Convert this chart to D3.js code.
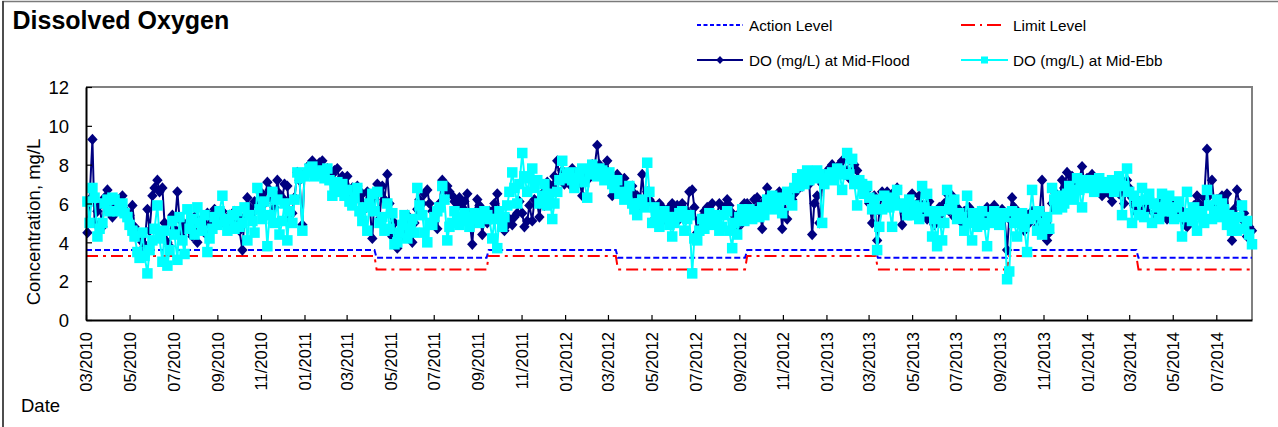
<!DOCTYPE html>
<html><head><meta charset="utf-8">
<script src="https://cdn.jsdelivr.net/npm/d3@7"></script>
<style>
body{margin:0;background:#fff}
svg{display:block}
text{font-family:"Liberation Sans",Arial,sans-serif;fill:#000}
</style>
</head><body>
<svg id="chart" width="1278" height="427"></svg>
<script>
// ---------- DATA ----------
// monitoring round A (Wednesdays)
const datesA = [
"2010-03-03","2010-03-10","2010-03-17","2010-03-24","2010-03-31","2010-04-07","2010-04-14","2010-04-21","2010-04-28",
"2010-05-05","2010-05-12","2010-05-19","2010-05-26","2010-06-02","2010-06-09","2010-06-16","2010-06-23","2010-06-30",
"2010-07-07","2010-07-14","2010-07-21","2010-07-28","2010-08-04","2010-08-11","2010-08-18","2010-08-25",
"2010-09-01","2010-09-08","2010-09-15","2010-09-22","2010-09-29","2010-10-06","2010-10-13","2010-10-20","2010-10-27",
"2010-11-03","2010-11-10","2010-11-17","2010-11-24","2010-12-01","2010-12-08","2010-12-15","2010-12-22","2010-12-29",
"2011-01-05","2011-01-12","2011-01-19","2011-01-26","2011-02-02","2011-02-09","2011-02-16","2011-02-23",
"2011-03-02","2011-03-09","2011-03-16","2011-03-23","2011-03-30","2011-04-06","2011-04-13","2011-04-20","2011-04-27",
"2011-05-04","2011-05-11","2011-05-18","2011-05-25","2011-06-01","2011-06-08","2011-06-15","2011-06-22","2011-06-29",
"2011-07-06","2011-07-13","2011-07-20","2011-07-27","2011-08-03","2011-08-10","2011-08-17","2011-08-24","2011-08-31",
"2011-09-07","2011-09-14","2011-09-21","2011-09-28","2011-10-05","2011-10-12","2011-10-19","2011-10-26",
"2011-11-02","2011-11-09","2011-11-16","2011-11-23","2011-11-30","2011-12-07","2011-12-14","2011-12-21","2011-12-28",
"2012-01-04","2012-01-11","2012-01-18","2012-01-25","2012-02-01","2012-02-08","2012-02-15","2012-02-22","2012-02-29",
"2012-03-07","2012-03-14","2012-03-21","2012-03-28","2012-04-04","2012-04-11","2012-04-18","2012-04-25",
"2012-05-02","2012-05-09","2012-05-16","2012-05-23","2012-05-30","2012-06-06","2012-06-13","2012-06-20","2012-06-27",
"2012-07-04","2012-07-11","2012-07-18","2012-07-25","2012-08-01","2012-08-08","2012-08-15","2012-08-22","2012-08-29",
"2012-09-05","2012-09-12","2012-09-19","2012-09-26","2012-10-03","2012-10-10","2012-10-17","2012-10-24","2012-10-31",
"2012-11-07","2012-11-14","2012-11-21","2012-11-28","2012-12-05","2012-12-12","2012-12-19","2012-12-26",
"2013-01-02","2013-01-09","2013-01-16","2013-01-23","2013-01-30","2013-02-06","2013-02-13","2013-02-20","2013-02-27",
"2013-03-06","2013-03-13","2013-03-20","2013-03-27","2013-04-03","2013-04-10","2013-04-17","2013-04-24",
"2013-05-01","2013-05-08","2013-05-15","2013-05-22","2013-05-29","2013-06-05","2013-06-12","2013-06-19","2013-06-26",
"2013-07-03","2013-07-10","2013-07-17","2013-07-24","2013-07-31","2013-08-07","2013-08-14","2013-08-21","2013-08-28",
"2013-09-04","2013-09-11","2013-09-18","2013-09-25","2013-10-02","2013-10-09","2013-10-16","2013-10-23","2013-10-30",
"2013-11-06","2013-11-13","2013-11-20","2013-11-27","2013-12-04","2013-12-11","2013-12-18","2013-12-25",
"2014-01-01","2014-01-08","2014-01-15","2014-01-22","2014-01-29","2014-02-05","2014-02-12","2014-02-19","2014-02-26",
"2014-03-05","2014-03-12","2014-03-19","2014-03-26","2014-04-02","2014-04-09","2014-04-16","2014-04-23","2014-04-30",
"2014-05-07","2014-05-14","2014-05-21","2014-05-28","2014-06-04","2014-06-11","2014-06-18","2014-06-25",
"2014-07-02","2014-07-09","2014-07-16","2014-07-23","2014-07-30","2014-08-06","2014-08-13","2014-08-20"];

// monitoring round B (Saturdays)
const datesB = [
"2010-03-06","2010-03-13","2010-03-20","2010-03-27","2010-04-03","2010-04-10","2010-04-17","2010-04-24","2010-05-01",
"2010-05-08","2010-05-15","2010-05-22","2010-05-29","2010-06-05","2010-06-12","2010-06-19","2010-06-26","2010-07-03",
"2010-07-10","2010-07-17","2010-07-24","2010-07-31","2010-08-07","2010-08-14","2010-08-21","2010-08-28",
"2010-09-04","2010-09-11","2010-09-18","2010-09-25","2010-10-02","2010-10-09","2010-10-16","2010-10-23","2010-10-30",
"2010-11-06","2010-11-13","2010-11-20","2010-11-27","2010-12-04","2010-12-11","2010-12-18","2010-12-25",
"2011-01-01","2011-01-08","2011-01-15","2011-01-22","2011-01-29","2011-02-05","2011-02-12","2011-02-19","2011-02-26",
"2011-03-05","2011-03-12","2011-03-19","2011-03-26","2011-04-02","2011-04-09","2011-04-16","2011-04-23","2011-04-30",
"2011-05-07","2011-05-14","2011-05-21","2011-05-28","2011-06-04","2011-06-11","2011-06-18","2011-06-25",
"2011-07-02","2011-07-09","2011-07-16","2011-07-23","2011-07-30","2011-08-06","2011-08-13","2011-08-20","2011-08-27",
"2011-09-03","2011-09-10","2011-09-17","2011-09-24","2011-10-01","2011-10-08","2011-10-15","2011-10-22","2011-10-29",
"2011-11-05","2011-11-12","2011-11-19","2011-11-26","2011-12-03","2011-12-10","2011-12-17","2011-12-24","2011-12-31",
"2012-01-07","2012-01-14","2012-01-21","2012-01-28","2012-02-04","2012-02-11","2012-02-18","2012-02-25",
"2012-03-03","2012-03-10","2012-03-17","2012-03-24","2012-03-31","2012-04-07","2012-04-14","2012-04-21","2012-04-28",
"2012-05-05","2012-05-12","2012-05-19","2012-05-26","2012-06-02","2012-06-09","2012-06-16","2012-06-23","2012-06-30",
"2012-07-07","2012-07-14","2012-07-21","2012-07-28","2012-08-04","2012-08-11","2012-08-18","2012-08-25",
"2012-09-01","2012-09-08","2012-09-15","2012-09-22","2012-09-29","2012-10-06","2012-10-13","2012-10-20","2012-10-27",
"2012-11-03","2012-11-10","2012-11-17","2012-11-24","2012-12-01","2012-12-08","2012-12-15","2012-12-22","2012-12-29",
"2013-01-05","2013-01-12","2013-01-19","2013-01-26","2013-02-02","2013-02-09","2013-02-16","2013-02-23",
"2013-03-02","2013-03-09","2013-03-16","2013-03-23","2013-03-30","2013-04-06","2013-04-13","2013-04-20","2013-04-27",
"2013-05-04","2013-05-11","2013-05-18","2013-05-25","2013-06-01","2013-06-08","2013-06-15","2013-06-22","2013-06-29",
"2013-07-06","2013-07-13","2013-07-20","2013-07-27","2013-08-03","2013-08-10","2013-08-17","2013-08-24","2013-08-31",
"2013-09-07","2013-09-14","2013-09-21","2013-09-28","2013-10-05","2013-10-12","2013-10-19","2013-10-26",
"2013-11-02","2013-11-09","2013-11-16","2013-11-23","2013-11-30","2013-12-07","2013-12-14","2013-12-21","2013-12-28",
"2014-01-04","2014-01-11","2014-01-18","2014-01-25","2014-02-01","2014-02-08","2014-02-15","2014-02-22",
"2014-03-01","2014-03-08","2014-03-15","2014-03-22","2014-03-29","2014-04-05","2014-04-12","2014-04-19","2014-04-26",
"2014-05-03","2014-05-10","2014-05-17","2014-05-24","2014-05-31","2014-06-07","2014-06-14","2014-06-21","2014-06-28",
"2014-07-05","2014-07-12","2014-07-19","2014-07-26","2014-08-02","2014-08-09","2014-08-16"];

const floodA = [
4.5,9.3,5.6,4.8,6.7,5.3,5.6,6.4,5.5,5.9, 4.5,4.0,5.7,6.4,7.2,6.8,4.0,5.4,6.6,4.5,
5.0,4.3,4.0,5.0,5.5,5.4,5.2,5.6,4.8,5.0, 5.2,3.6,6.3,5.5,5.9,6.5,7.1,6.2,7.2,6.3,
6.9,5.5,7.6,4.9,7.7,8.2,7.9,8.2,7.8,7.5, 7.8,7.4,7.4,6.8,6.9,6.5,6.6,4.2,7.0,6.9,
7.5,4.3,3.7,5.0,5.4,4.0,5.7,6.0,6.7,5.6, 4.7,7.2,6.9,6.4,6.0,5.8,6.5,3.9,6.2,4.4,
5.0,5.6,6.5,5.3,4.9,4.9,5.5,5.5,5.1,5.1, 6.0,6.5,7.1,6.9,8.2,7.7,7.4,7.8,7.0,6.4,
7.2,8.0,9.0,7.6,8.2,6.4,7.5,7.0,6.6,6.9, 6.4,7.5,6.6,6.0,5.6,5.8,5.5,6.0,5.9,6.0,
5.6,6.7,4.5,5.3,5.8,6.0,5.4,5.5,6.2,5.5, 4.7,5.0,6.0,5.5,6.3,4.7,6.8,6.1,5.8,4.7,
5.2,6.2,7.1,6.9,7.5,4.4,6.4,7.0,7.3,8.0, 7.8,8.2,7.7,7.7,7.7,7.1,6.7,5.0,4.1,6.6,
6.6,6.3,6.8,4.9,5.8,6.5,6.0,5.9,5.2,5.6, 5.2,5.5,6.5,6.4,5.8,5.0,5.3,5.4,5.2,5.5,
5.8,5.7,5.4,5.7,3.6,6.3,5.5,5.1,5.4,5.6, 4.8,7.2,4.1,6.0,6.4,7.2,7.6,7.4,7.0,7.9,
7.3,7.5,7.0,6.4,6.6,6.1,6.9,7.1,7.2,6.3, 5.5,5.4,5.6,6.0,5.8,6.2,5.2,5.9,5.3,5.6,
4.8,5.6,6.4,5.8,8.8,7.2,6.2,6.4,6.5,4.1, 6.7,5.2,4.3,4.6];

const ebbA = [
6.1,6.8,4.3,5.0,6.2,6.3,5.6,6.0,5.3,4.6, 3.5,4.5,2.4,4.1,5.9,3.0,2.8,5.1,3.1,4.1,
5.7,5.2,5.8,4.6,3.5,4.7,4.9,6.4,4.6,5.4, 5.6,5.0,4.1,5.1,6.8,5.2,3.8,6.6,6.2,5.1,
4.1,5.0,7.6,4.6,7.6,7.9,7.5,7.7,7.8,6.4, 7.1,7.0,6.7,5.9,6.8,5.1,4.6,6.5,6.6,5.3,
6.0,5.5,4.0,4.9,4.2,5.2,6.8,5.4,4.0,4.9, 5.6,6.9,4.1,5.0,5.3,5.1,5.3,5.2,5.4,5.3,
5.4,4.2,3.7,4.8,5.9,7.6,6.0,8.6,6.6,7.8, 7.2,6.4,5.9,5.2,6.6,8.2,7.5,7.2,7.3,7.8,
6.3,8.0,7.4,7.7,7.3,7.0,7.2,6.6,6.4,6.0, 5.4,6.2,8.1,5.0,5.4,5.3,5.3,4.3,5.3,5.6,
5.2,2.4,4.1,5.2,5.0,4.9,5.3,4.8,5.6,3.7, 4.4,5.7,5.3,5.2,5.6,5.8,6.2,6.4,6.0,5.5,
6.6,5.9,7.3,7.5,7.7,7.6,7.7,5.0,7.3,7.6, 7.8,6.7,8.6,8.3,5.9,7.0,6.9,5.7,3.6,5.7,
6.2,4.8,6.7,6.0,5.4,5.4,5.6,6.9,6.5,4.3, 3.8,4.1,6.7,5.9,5.2,5.3,6.4,4.1,4.8,5.6,
3.8,5.3,5.4,5.5,2.1,5.6,4.3,5.5,3.5,6.7, 4.6,4.4,5.3,6.8,5.7,5.8,6.5,6.6,7.3,5.8,
7.2,7.2,7.0,7.1,6.9,7.2,7.0,5.4,7.8,5.0, 6.1,6.8,6.2,5.0,5.8,6.5,6.0,5.6,5.8,4.3,
6.6,5.1,4.6,5.4,6.7,5.2,6.2,6.0,4.9,4.6, 4.6,5.9,5.1,3.9];

const floodB = [
6.2,5.0,5.9,6.3,6.0,6.2,5.9,5.7,5.4,4.8, 4.3,3.8,4.6,6.8,6.6,5.0,3.8,4.7,5.2,4.9,
4.6,5.3,5.1,4.5,4.9,5.7,5.5,5.0,5.4,5.6, 4.6,5.3,5.8,6.1,6.6,6.0,6.7,5.8,6.5,7.0,
5.2,6.3,7.2,7.5,8.0,7.8,8.1,7.7,7.3,7.7, 7.2,7.0,6.6,6.5,6.2,5.7,6.0,6.4,5.2,6.2,
6.0,5.0,4.2,4.6,4.3,5.0,6.2,6.5,6.0,5.1, 6.0,6.2,6.6,6.1,6.3,6.1,5.2,5.5,5.9,5.3,
5.6,6.0,5.5,4.6,5.2,5.3,6.1,4.8,5.9,6.2, 5.3,5.9,6.4,7.4,7.3,7.0,7.0,7.5,7.2,7.6,
7.4,7.8,8.0,7.8,7.3,7.2,6.8,7.3,6.2,6.5, 5.8,6.2,6.2,5.2,6.0,5.2,5.8,5.6,5.2,5.7,
6.6,5.8,5.2,5.6,5.5,5.2,6.0,5.8,5.9,5.2, 5.5,6.0,5.6,6.2,5.9,6.1,6.4,5.8,6.6,6.3,
6.6,6.5,6.8,7.3,7.0,6.0,5.0,7.5,7.8,7.6, 8.0,7.5,7.3,8.0,7.2,6.9,6.0,6.4,5.6,6.2,
6.0,6.6,6.0,5.6,6.3,5.5,6.4,5.6,6.1,4.9, 5.8,6.0,5.6,5.3,5.4,5.6,5.8,5.0,5.6,5.1,
5.3,5.9,5.1,5.5,5.2,5.8,5.5,4.6,5.0,5.5, 5.2,5.0,4.5,6.6,5.9,6.8,7.0,6.6,7.2,7.1,
7.0,6.7,6.9,6.9,6.5,6.8,6.5,6.0,6.8,5.9, 6.1,5.8,6.3,5.5,6.1,5.7,5.5,6.0,5.7,5.1,
5.4,5.9,6.0,6.3,6.4,6.0,5.8,6.3,5.2,5.7, 6.0,5.5,4.8];

const ebbB = [
5.0,6.3,4.7,6.0,5.6,6.2,5.8,5.5,4.9,4.3, 3.2,3.3,3.6,4.7,4.2,4.6,3.6,4.4,5.3,3.4,
4.7,4.4,5.0,5.4,4.2,5.3,5.6,5.1,5.2,4.7, 4.8,5.8,5.4,4.5,5.7,6.1,5.4,5.0,4.4,6.0,
5.6,6.2,7.3,7.4,7.8,7.4,7.6,7.3,7.2,6.9, 6.6,6.4,6.1,6.3,5.6,5.8,6.0,5.6,5.0,4.6,
4.7,3.9,4.5,5.4,4.7,4.5,5.9,4.5,5.0,5.3, 5.8,6.2,4.8,5.6,4.9,5.5,4.8,5.5,5.0,5.6,
5.2,5.2,5.6,5.3,6.6,6.8,7.0,7.4,7.3,6.8, 6.0,7.0,6.5,6.0,7.2,7.3,7.6,6.8,7.6,7.1,
7.5,7.6,7.8,7.2,7.6,6.8,6.5,6.2,6.9,5.7, 6.0,5.8,6.6,5.8,4.8,5.6,4.9,5.0,5.5,4.6,
5.4,4.2,4.6,4.7,5.5,5.4,4.6,5.4,4.6,5.0, 5.3,5.1,5.7,5.6,5.3,5.4,5.9,5.7,6.3,6.2,
6.2,6.8,6.9,7.0,7.2,7.3,7.5,7.0,7.5,7.2, 7.7,7.5,7.5,7.0,7.2,6.5,6.3,6.2,4.8,6.4,
5.8,6.3,5.9,5.8,6.2,5.9,5.2,5.8,5.6,5.2, 5.6,5.0,5.7,6.2,5.5,4.6,5.0,5.5,5.2,4.9,
5.0,5.6,4.9,5.3,2.5,5.0,5.3,4.8,5.2,5.4, 5.6,5.0,4.7,6.2,6.4,6.0,6.9,6.2,6.7,6.9,
6.8,6.6,7.3,6.8,7.0,6.6,7.4,6.9,6.6,6.4, 5.4,5.3,6.5,6.0,5.2,5.6,6.4,5.2,6.1,5.3,
5.5,5.8,5.6,5.0,5.9,5.6,5.3,5.7,5.4,5.1, 5.3,4.7,4.4];

const levelDates = ["2010-03-01","2011-04-09","2011-04-12","2011-09-13","2011-09-16","2012-03-12","2012-03-15",
  "2012-09-09","2012-09-12","2013-03-11","2013-03-14","2013-09-11","2013-09-14","2014-03-11","2014-03-14","2014-08-20"];
const actionLevel = [3.6,3.6,3.2,3.2,3.6,3.6,3.2,3.2,3.6,3.6,3.2,3.2,3.6,3.6,3.2,3.2];
const limitLevel  = [3.3,3.3,2.6,2.6,3.3,3.3,2.6,2.6,3.3,3.3,2.6,2.6,3.3,3.3,2.6,2.6];

const yTickValues = [0,2,4,6,8,10,12];
const xTickLabels = ["03/2010","05/2010","07/2010","09/2010","11/2010","01/2011","03/2011","05/2011","07/2011",
  "09/2011","11/2011","01/2012","03/2012","05/2012","07/2012","09/2012","11/2012","01/2013","03/2013",
  "05/2013","07/2013","09/2013","11/2013","01/2014","03/2014","05/2014","07/2014"];
const xDomain = ["2010-03-01","2014-08-20"];
const seriesNames = ["Action Level","Limit Level","DO (mg/L) at Mid-Flood","DO (mg/L) at Mid-Ebb"];
const titleText = "Dissolved Oxygen";
const yTitle = "Concentration, mg/L";
const xTitle = "Date";

// ---------- CHART ----------
const parse = d3.utcParse("%Y-%m-%d");
const parseMY = d3.utcParse("%m/%Y");
const svg = d3.select("#chart");
const L = 86, R = 1252, T = 87, B = 320;

const x = d3.scaleUtc().domain(xDomain.map(parse)).range([L, R]);
const y = d3.scaleLinear().domain([0, 12]).range([B, T]);

// outer frame
svg.append("path").attr("d", "M3,427 V1.5 H1278").attr("fill", "none")
  .attr("stroke", "#7a7a7a").attr("stroke-width", 1.5);
svg.append("line").attr("x1", 3).attr("x2", 3).attr("y1", 1).attr("y2", 427)
  .attr("stroke", "#333").attr("stroke-width", 1.5);

// title
svg.append("text").attr("x", 12.5).attr("y", 29.3).attr("font-size", 25)
  .attr("font-weight", "bold").text(titleText);

// plot border (top/right gray)
svg.append("path").attr("d", `M${L},${T} H${R} V${B}`).attr("fill", "none")
  .attr("stroke", "#808080").attr("stroke-width", 2);

const pts = [];
const nA = Math.min(datesA.length, floodA.length, ebbA.length);
for (let i = 0; i < nA; i++) pts.push({d: parse(datesA[i]), f: floodA[i], e: ebbA[i]});
const nB = Math.min(datesB.length, floodB.length, ebbB.length);
for (let i = 0; i < nB; i++) pts.push({d: parse(datesB[i]), f: floodB[i], e: ebbB[i]});
pts.sort((a, b) => a.d - b.d);
const lvl = levelDates.map((d, i) => ({d: parse(d), a: actionLevel[i], l: limitLevel[i]}));

const g = svg.append("g");
// level lines
g.append("path").datum(lvl).attr("fill", "none").attr("stroke", "#0000ff").attr("stroke-width", 2)
  .attr("stroke-dasharray", "6,3")
  .attr("d", d3.line().x(d => x(d.d)).y(d => y(d.a)));
g.append("path").datum(lvl).attr("fill", "none").attr("stroke", "#ff0000").attr("stroke-width", 2)
  .attr("stroke-dasharray", "12,5,3,5")
  .attr("d", d3.line().x(d => x(d.d)).y(d => y(d.l)));

// flood series
g.append("path").datum(pts).attr("fill", "none").attr("stroke", "#000080").attr("stroke-width", 2)
  .attr("stroke-linejoin", "round")
  .attr("d", d3.line().x(d => x(d.d)).y(d => y(d.f)));
g.selectAll(".dia").data(pts).join("path").attr("class", "dia")
  .attr("d", "M0,-5.6L5.2,0L0,5.6L-5.2,0Z").attr("fill", "#000080")
  .attr("transform", d => `translate(${x(d.d)},${y(d.f)})`);

// ebb series
g.append("path").datum(pts).attr("fill", "none").attr("stroke", "#00ffff").attr("stroke-width", 2)
  .attr("stroke-linejoin", "round")
  .attr("d", d3.line().x(d => x(d.d)).y(d => y(d.e)));
g.selectAll(".sq").data(pts).join("rect").attr("class", "sq")
  .attr("x", d => x(d.d) - 5.25).attr("y", d => y(d.e) - 5.25)
  .attr("width", 10.5).attr("height", 10.5).attr("fill", "#00ffff");

// y axis
const yAxis = svg.append("g").attr("transform", `translate(${L},0)`)
  .call(d3.axisLeft(y).tickValues(yTickValues).tickSizeInner(-6).tickSizeOuter(0).tickPadding(17));
yAxis.select(".domain").attr("stroke", "#000").attr("stroke-width", 2);
yAxis.selectAll(".tick line").attr("stroke", "#000").attr("stroke-width", 1.2);
yAxis.selectAll("text").attr("font-size", 18.5).attr("font-family", null).attr("dy", "0.36em");

// x axis
const xTicks = xTickLabels.map(parseMY);
const xAxis = svg.append("g").attr("transform", `translate(0,${B})`)
  .call(d3.axisBottom(x).tickValues(xTicks).tickSizeInner(-5).tickSizeOuter(0)
    .tickFormat(d3.utcFormat("%m/%Y")));
xAxis.select(".domain").attr("stroke", "#000").attr("stroke-width", 2);
xAxis.selectAll(".tick line").attr("stroke", "#000").attr("stroke-width", 1.2);
xAxis.selectAll("text").attr("font-size", 16.5).attr("font-family", null)
  .attr("transform", "rotate(-90)").attr("x", -12).attr("y", 0).attr("dy", "0.36em")
  .style("text-anchor", "end");

// axis titles
svg.append("text").attr("transform", "translate(33,222) rotate(-90)").attr("text-anchor", "middle")
  .attr("dy", "0.36em").attr("font-size", 18.5).text(yTitle);
svg.append("text").attr("x", 21).attr("y", 411.5).attr("font-size", 18.5).text(xTitle);

// legend
const lg = svg.append("g");
const legendItems = [
  {x0: 697, x1: 743, y: 25, tx: 749, name: seriesNames[0], stroke: "#0000ff", dash: "4,2.5"},
  {x0: 961, x1: 1003, y: 25, tx: 1013, name: seriesNames[1], stroke: "#ff0000", dash: "14,5,2,5"},
  {x0: 697, x1: 743, y: 60, tx: 749, name: seriesNames[2], stroke: "#000080", dash: null, marker: "dia"},
  {x0: 961, x1: 1008, y: 60, tx: 1013, name: seriesNames[3], stroke: "#00ffff", dash: null, marker: "sq"}
];
legendItems.forEach(it => {
  lg.append("line").attr("x1", it.x0).attr("x2", it.x1).attr("y1", it.y).attr("y2", it.y)
    .attr("stroke", it.stroke).attr("stroke-width", 2).attr("stroke-dasharray", it.dash);
  const cx = (it.x0 + it.x1) / 2;
  if (it.marker === "dia") lg.append("path").attr("d", "M0,-4L3.8,0L0,4L-3.8,0Z").attr("fill", it.stroke)
    .attr("transform", `translate(${cx},${it.y})`);
  if (it.marker === "sq") lg.append("rect").attr("x", cx - 3.5).attr("y", it.y - 3.5).attr("width", 7)
    .attr("height", 7).attr("fill", it.stroke);
  lg.append("text").attr("x", it.tx).attr("y", it.y + 6).attr("font-size", 15.3).text(it.name);
});
</script>
</body></html>
